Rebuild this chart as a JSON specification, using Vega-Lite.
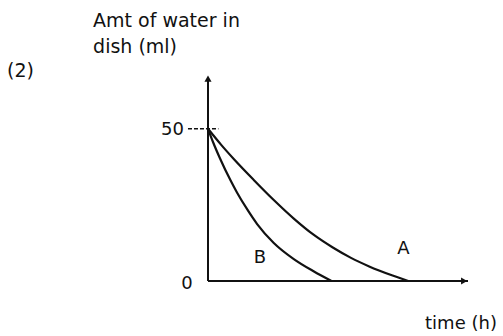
{
  "$schema": "https://vega.github.io/schema/vega-lite/v6.json",
  "autosize": {"type": "none"},
  "width": 260,
  "height": 207,
  "padding": {"left": 208, "top": 74, "right": 35, "bottom": 55},
  "background": "white",
  "config": {"view": {"stroke": null}},
  "datasets": {
    "curves": [
      {"curve": "A", "t": 0, "w": 50},
      {"curve": "A", "t": 5, "w": 44.8},
      {"curve": "A", "t": 10, "w": 40},
      {"curve": "A", "t": 17.6, "w": 33.2},
      {"curve": "A", "t": 25.3, "w": 26.6},
      {"curve": "A", "t": 33, "w": 20.5},
      {"curve": "A", "t": 40.6, "w": 15.2},
      {"curve": "A", "t": 48, "w": 11},
      {"curve": "A", "t": 55, "w": 7.6},
      {"curve": "A", "t": 62, "w": 4.8},
      {"curve": "A", "t": 71, "w": 1.8},
      {"curve": "A", "t": 77, "w": 0},
      {"curve": "B", "t": 0, "w": 50},
      {"curve": "B", "t": 2, "w": 45.5},
      {"curve": "B", "t": 4.5, "w": 40.5},
      {"curve": "B", "t": 8.7, "w": 33},
      {"curve": "B", "t": 11.2, "w": 29},
      {"curve": "B", "t": 15.1, "w": 23.5},
      {"curve": "B", "t": 18.9, "w": 18.7},
      {"curve": "B", "t": 25.3, "w": 12.5},
      {"curve": "B", "t": 33, "w": 7.2},
      {"curve": "B", "t": 40.6, "w": 3.2},
      {"curve": "B", "t": 47.5, "w": 0}
    ],
    "axes": [
      {"x1": 0, "y1": 0, "x2": 100, "y2": 0},
      {"x1": 0, "y1": 0, "x2": 0, "y2": 66}
    ],
    "tick": [
      {"x1": -7.7, "y1": 50, "x2": 4, "y2": 50}
    ],
    "arrows": [
      {"x": 0, "y": 66.5, "shape": "triangle-up"},
      {"x": 98.5, "y": 0, "shape": "triangle-right"}
    ],
    "leftText": [
      {"x": -44.2, "y": 83.6, "label": "Amt of water in"},
      {"x": -44.2, "y": 75, "label": "dish (ml)"},
      {"x": -77.3, "y": 67.1, "label": "(2)"}
    ],
    "centerText": [
      {"x": -13.7, "y": 49.7, "label": "50"},
      {"x": -8.1, "y": -1, "label": "0"},
      {"x": 20, "y": 7.4, "label": "B"},
      {"x": 75.2, "y": 10.5, "label": "A"},
      {"x": 97.3, "y": -14, "label": "time (h)"}
    ]
  },
  "layer": [
    {
      "data": {"name": "axes"},
      "mark": {"type": "rule", "color": "#111", "strokeWidth": 2},
      "encoding": {
        "x": {"field": "x1", "type": "quantitative", "scale": {"domain": [0, 100], "nice": false, "zero": false}, "axis": null},
        "y": {"field": "y1", "type": "quantitative", "scale": {"domain": [0, 68], "nice": false, "zero": false}, "axis": null},
        "x2": {"field": "x2"},
        "y2": {"field": "y2"}
      }
    },
    {
      "data": {"name": "tick"},
      "mark": {"type": "rule", "color": "#111", "strokeWidth": 1.5, "strokeDash": [4, 2]},
      "encoding": {
        "x": {"field": "x1", "type": "quantitative"},
        "y": {"field": "y1", "type": "quantitative"},
        "x2": {"field": "x2"},
        "y2": {"field": "y2"}
      }
    },
    {
      "data": {"name": "curves"},
      "mark": {"type": "line", "color": "#111", "strokeWidth": 2.2, "interpolate": "monotone"},
      "encoding": {
        "x": {"field": "t", "type": "quantitative"},
        "y": {"field": "w", "type": "quantitative"},
        "detail": {"field": "curve"}
      }
    },
    {
      "data": {"name": "arrows"},
      "mark": {"type": "point", "filled": true, "color": "#111", "size": 50, "opacity": 1},
      "encoding": {
        "x": {"field": "x", "type": "quantitative"},
        "y": {"field": "y", "type": "quantitative"},
        "shape": {"field": "shape", "type": "nominal", "scale": null}
      }
    },
    {
      "data": {"name": "leftText"},
      "mark": {"type": "text", "align": "left", "baseline": "alphabetic", "font": "DejaVu Sans", "fontSize": 19, "color": "#111"},
      "encoding": {
        "x": {"field": "x", "type": "quantitative"},
        "y": {"field": "y", "type": "quantitative"},
        "text": {"field": "label"}
      }
    },
    {
      "data": {"name": "centerText"},
      "mark": {"type": "text", "align": "center", "baseline": "middle", "font": "DejaVu Sans", "fontSize": 18, "color": "#111"},
      "encoding": {
        "x": {"field": "x", "type": "quantitative"},
        "y": {"field": "y", "type": "quantitative"},
        "text": {"field": "label"}
      }
    }
  ]
}
